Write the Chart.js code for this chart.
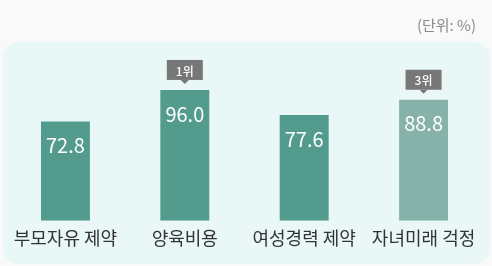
<!DOCTYPE html>
<html>
<head>
<meta charset="utf-8">
<script src="https://cdn.jsdelivr.net/npm/chart.js@4"></script>
<style>
  html, body { margin: 0; padding: 0; background: #f9f9f9; }
  #wrap { position: relative; width: 492px; height: 266px; }
</style>
</head>
<body>
<div id="wrap"><canvas id="c" width="492" height="266"></canvas></div>
<script>
const categories = ["부모자유 제약", "양육비용", "여성경력 제약", "자녀미래 걱정"];
const values = [72.8, 96.0, 77.6, 88.8];
const ranks = [null, "1위", null, "3위"];
const unitLabel = "(단위: %)";

const FONT = "'Noto Sans CJK KR', 'Noto Sans', sans-serif";

// panel, unit text, badges and value labels
const decor = {
  id: "decor",
  beforeDraw(chart) {
    const ctx = chart.ctx;
    ctx.save();
    ctx.fillStyle = "#e9f7f7";
    ctx.beginPath();
    ctx.roundRect(3, 42, 487, 222, 16);
    ctx.fill();
    ctx.fillStyle = "#8a8a8a";
    ctx.font = "15px " + FONT;
    ctx.textAlign = "right";
    ctx.textBaseline = "middle";
    ctx.fillText(unitLabel, 476, 25);
    ctx.restore();
  },
  afterDatasetsDraw(chart) {
    const ctx = chart.ctx;
    const meta = chart.getDatasetMeta(0);
    ctx.save();
    meta.data.forEach((bar, i) => {
      ctx.fillStyle = "#ffffff";
      ctx.font = "20px " + FONT;
      ctx.textAlign = "center";
      ctx.textBaseline = "middle";
      ctx.fillText(values[i].toFixed(1), bar.x, bar.y + 24);
      if (ranks[i]) {
        const bw = 36, bh = 20;
        const by = bar.y - 30;
        ctx.fillStyle = "#777777";
        ctx.fillRect(bar.x - bw / 2, by, bw, bh);
        ctx.beginPath();
        ctx.moveTo(bar.x - 4, by + bh);
        ctx.lineTo(bar.x + 4, by + bh);
        ctx.lineTo(bar.x, by + bh + 4);
        ctx.closePath();
        ctx.fill();
        ctx.fillStyle = "#ffffff";
        ctx.font = "500 12px " + FONT;
        ctx.fillText(ranks[i], bar.x, by + bh / 2 + 1);
      }
    });
    ctx.restore();
  }
};

new Chart(document.getElementById("c"), {
  type: "bar",
  data: {
    labels: categories,
    datasets: [{
      data: values,
      backgroundColor: ["#529b8d", "#529b8d", "#529b8d", "#86b2aa"],
      barPercentage: 0.82,
      categoryPercentage: 0.5
    }]
  },
  options: {
    responsive: false,
    animation: false,
    devicePixelRatio: 1,
    layout: { padding: { left: 5.75, right: 8.75, top: 84.5, bottom: 9.6 } },
    plugins: { legend: { display: false }, tooltip: { enabled: false } },
    scales: {
      x: {
        grid: { display: false, drawTicks: false },
        border: { display: false },
        ticks: { color: "#333333", font: { family: FONT, size: 18 }, padding: 7 }
      },
      y: { display: false, min: 0, max: 100 }
    }
  },
  plugins: [decor]
});
</script>
</body>
</html>
